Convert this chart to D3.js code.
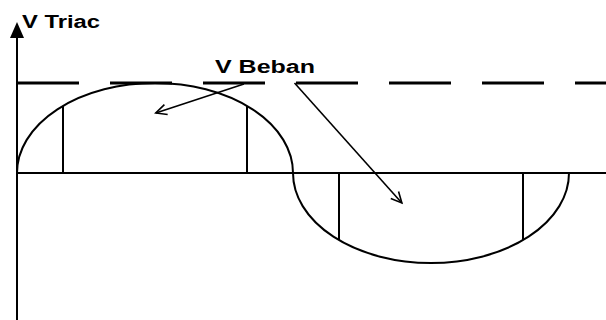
<!DOCTYPE html>
<html>
<head>
<meta charset="utf-8">
<script src="https://cdn.jsdelivr.net/npm/d3@7"></script>
<style>
  html, body { margin: 0; padding: 0; background: #fff; }
  svg { display: block; }
</style>
</head>
<body>
<script>
// ---- data (angles in degrees, voltages normalised to Vm = 1) ----
const halfWaveStarts = [0, 180];          // start angle of each half cycle
const halfWaveEnds = [180, 360];          // end angle of each half cycle
const halfWavePeaks = [1, -1];            // peak value of each half cycle
const firingAngles = [30, 150, 210, 330]; // vertical lines (triac switching)
const peakLevel = 1;                      // dashed Vm line
const labels = ["V Triac", "V Beban"];
// arrows from the "V Beban" label: [startAngle, startV, tipAngle, tipV]
const arrows = [
  [148, 0.99, 90.5, 0.667],
  [181, 1.0, 251, -0.333]
];

const W = 606, H = 320;
const svg = d3.select("body").append("svg").attr("width", W).attr("height", H);

const x = d3.scaleLinear().domain([0, 360]).range([17, 569]);
const y = d3.scaleLinear().domain([0, 1]).range([173, 83]);

// dashed peak line
svg.append("line")
  .attr("x1", x(0)).attr("x2", W)
  .attr("y1", y(peakLevel)).attr("y2", y(peakLevel))
  .attr("stroke", "#000").attr("stroke-width", 3)
  .attr("stroke-dasharray", "62 31");

// horizontal axis
svg.append("line")
  .attr("x1", x(0)).attr("x2", W)
  .attr("y1", y(0)).attr("y2", y(0))
  .attr("stroke", "#000").attr("stroke-width", 2);

// half-wave shape value at an angle
function waveVal(a) {
  for (let i = 0; i < halfWaveStarts.length; i++) {
    const s = halfWaveStarts[i], e = halfWaveEnds[i];
    if (a >= s && a <= e) {
      const c = (s + e) / 2, h = (e - s) / 2;
      const u = (a - c) / h;
      return halfWavePeaks[i] * Math.sqrt(Math.max(0, 1 - u * u));
    }
  }
  return 0;
}

// elliptical half waves
halfWaveStarts.forEach((s, i) => {
  const e = halfWaveEnds[i], p = halfWavePeaks[i];
  const rx = (x(e) - x(s)) / 2;
  const ry = Math.abs(y(p) - y(0));
  const sweep = p > 0 ? 1 : 0;
  svg.append("path")
    .attr("d", `M${x(s)},${y(0)} A${rx},${ry} 0 0 ${sweep} ${x(e)},${y(0)}`)
    .attr("fill", "none").attr("stroke", "#000").attr("stroke-width", 2);
});

// firing-angle vertical lines
svg.selectAll("line.fire").data(firingAngles).enter().append("line")
  .attr("class", "fire")
  .attr("x1", d => x(d)).attr("x2", d => x(d))
  .attr("y1", y(0)).attr("y2", d => y(waveVal(d)))
  .attr("stroke", "#000").attr("stroke-width", 2);

// vertical axis with filled arrow head
svg.append("line")
  .attr("x1", x(0)).attr("x2", x(0))
  .attr("y1", 34).attr("y2", H)
  .attr("stroke", "#000").attr("stroke-width", 2);
svg.append("path")
  .attr("d", `M${x(0)},22 L${x(0) - 7},38 L${x(0) + 7},38 Z`)
  .attr("fill", "#000");

// arrows (open V heads)
arrows.forEach(([a0, v0, a1, v1]) => {
  const x0 = x(a0), y0 = y(v0), x1 = x(a1), y1 = y(v1);
  svg.append("line")
    .attr("x1", x0).attr("y1", y0).attr("x2", x1).attr("y2", y1)
    .attr("stroke", "#000").attr("stroke-width", 1.6);
  const ang = Math.atan2(y1 - y0, x1 - x0);
  const L = 12, spread = 0.45;
  const p1 = [x1 - L * Math.cos(ang - spread), y1 - L * Math.sin(ang - spread)];
  const p2 = [x1 - L * Math.cos(ang + spread), y1 - L * Math.sin(ang + spread)];
  svg.append("path")
    .attr("d", `M${p1[0]},${p1[1]} L${x1},${y1} L${p2[0]},${p2[1]}`)
    .attr("fill", "none").attr("stroke", "#000").attr("stroke-width", 1.6);
});

// labels
svg.append("text")
  .attr("x", 22).attr("y", 28)
  .attr("font-family", "Liberation Sans, Arial, sans-serif")
  .attr("font-weight", "bold").attr("font-size", 18)
  .attr("textLength", 78).attr("lengthAdjust", "spacingAndGlyphs")
  .text(labels[0]);
svg.append("text")
  .attr("x", 215).attr("y", 73)
  .attr("font-family", "Liberation Sans, Arial, sans-serif")
  .attr("font-weight", "bold").attr("font-size", 18)
  .attr("textLength", 100).attr("lengthAdjust", "spacingAndGlyphs")
  .text(labels[1]);
</script>
</body>
</html>
